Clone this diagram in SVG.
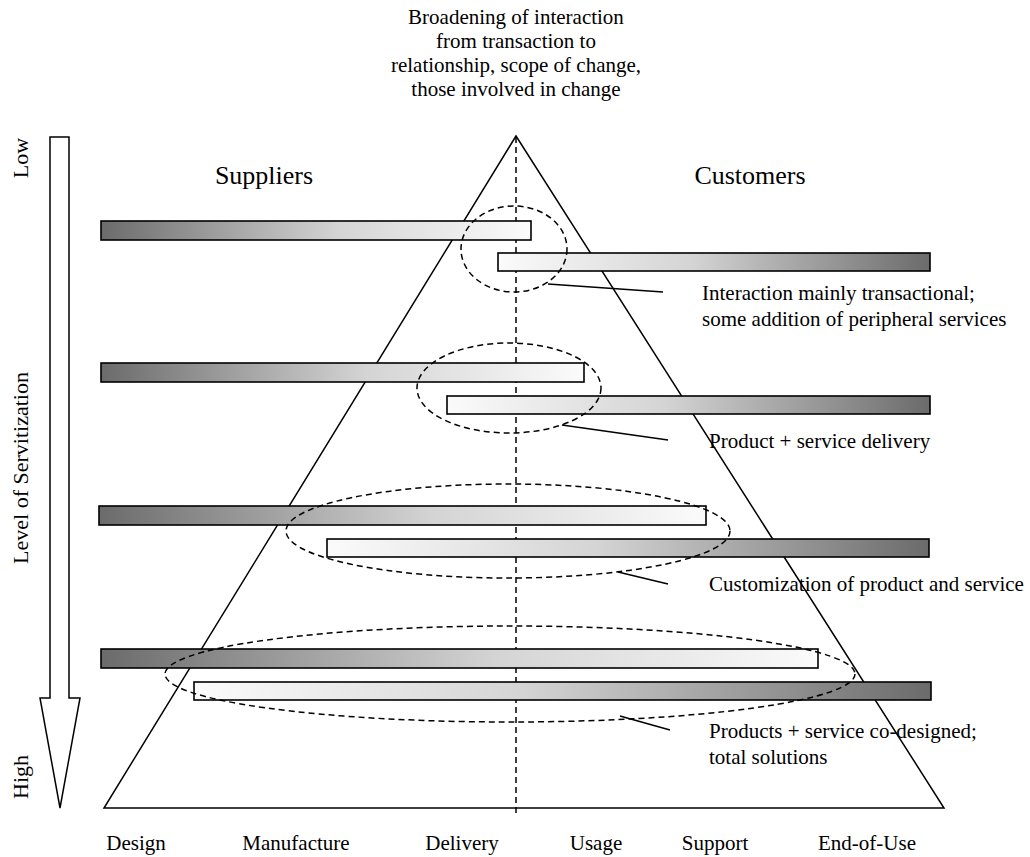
<svg xmlns="http://www.w3.org/2000/svg" width="1030" height="857" viewBox="0 0 1030 857">
<defs>
<linearGradient id="gL" x1="0" y1="0" x2="1" y2="0"><stop offset="0" stop-color="#6b6b6b"/><stop offset="0.55" stop-color="#d4d4d4"/><stop offset="1" stop-color="#fbfbfb"/></linearGradient>
<linearGradient id="gR" x1="0" y1="0" x2="1" y2="0"><stop offset="0" stop-color="#fbfbfb"/><stop offset="0.45" stop-color="#d4d4d4"/><stop offset="1" stop-color="#6b6b6b"/></linearGradient>
</defs>
<style>
text{font-family:"Liberation Serif","Times New Roman",serif;font-size:21px;fill:#000}
.big{font-size:26px}
.vert{font-size:22px}
.bar{stroke:#000;stroke-width:1.6}
.ell{fill:none;stroke:#000;stroke-width:1.5;stroke-dasharray:6 4}
.ln{fill:none;stroke:#000;stroke-width:1.5}
.mid{text-anchor:middle}
</style>
<rect width="1030" height="857" fill="#fff"/>
<g id="title">
<text class="mid" x="516" y="24">Broadening of interaction</text>
<text class="mid" x="516" y="48">from transaction to</text>
<text class="mid" x="516" y="72">relationship, scope of change,</text>
<text class="mid" x="516" y="96">those involved in change</text>
</g>
<g id="axis-arrow">
<path class="ln" d="M50,137 H69 V698 H80 L60,808 L40,698 H50 Z" fill="#fff"/>
<text class="mid vert" transform="translate(28,158) rotate(-90)">Low</text>
<text class="mid vert" transform="translate(28,468) rotate(-90)">Level of Servitization</text>
<text class="mid vert" transform="translate(28,777) rotate(-90)">High</text>
</g>
<g id="pyramid">
<path class="ln" d="M516,136 L104,808 H944 Z" fill="none"/>
<line class="ln" x1="516" y1="137" x2="516" y2="815" stroke-dasharray="6 4"/>
</g>
<g id="labels">
<text class="big mid" x="264" y="184">Suppliers</text>
<text class="big mid" x="750" y="184">Customers</text>
</g>
<g id="level1">
<rect class="bar" x="101" y="221" width="430" height="19" fill="url(#gL)"/>
<rect class="bar" x="498" y="253" width="432" height="18" fill="url(#gR)"/>
<ellipse class="ell" cx="514" cy="249" rx="53" ry="43"/>
<text x="702" y="300">Interaction mainly transactional;</text>
<text x="702" y="326">some addition of peripheral services</text>
</g>
<g id="level2">
<rect class="bar" x="101" y="363" width="483" height="19" fill="url(#gL)"/>
<rect class="bar" x="447" y="396" width="483" height="18" fill="url(#gR)"/>
<ellipse class="ell" cx="509" cy="388" rx="92" ry="45"/>
<text x="709" y="448">Product + service delivery</text>
</g>
<g id="level3">
<rect class="bar" x="99" y="506" width="607" height="19" fill="url(#gL)"/>
<rect class="bar" x="327" y="539" width="602" height="18" fill="url(#gR)"/>
<ellipse class="ell" cx="508" cy="531" rx="222" ry="47"/>
<text x="709" y="591">Customization of product and service</text>
</g>
<g id="level4">
<rect class="bar" x="101" y="649" width="717" height="19" fill="url(#gL)"/>
<rect class="bar" x="194" y="682" width="737" height="18" fill="url(#gR)"/>
<ellipse class="ell" cx="510" cy="674" rx="345" ry="48"/>
<text x="709" y="738">Products + service co-designed;</text>
<text x="709" y="764">total solutions</text>
</g>
<g id="connectors">
<line class="ln" x1="548" y1="284" x2="663" y2="292"/>
<line class="ln" x1="562" y1="425" x2="668" y2="440"/>
<line class="ln" x1="618" y1="572" x2="668" y2="584"/>
<line class="ln" x1="620" y1="716" x2="670" y2="730"/>
</g>
<g id="stages">
<text class="mid" x="136" y="850">Design</text>
<text class="mid" x="296" y="850">Manufacture</text>
<text class="mid" x="462" y="850">Delivery</text>
<text class="mid" x="596" y="850">Usage</text>
<text class="mid" x="715" y="850">Support</text>
<text class="mid" x="867" y="850">End-of-Use</text>
</g>
</svg>
